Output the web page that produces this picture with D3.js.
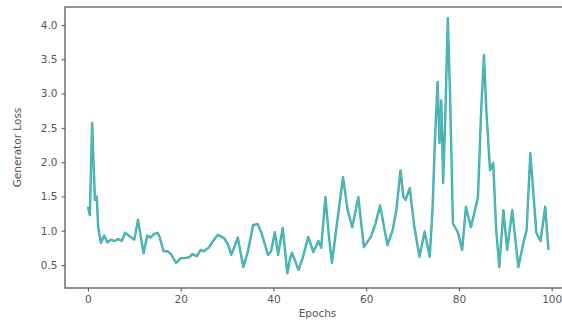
<!DOCTYPE html>
<html>
<head>
<meta charset="utf-8">
<script src="https://cdn.jsdelivr.net/npm/d3@7"></script>
<style>
  body { margin: 0; background: #fff; }
  svg { display: block; font-family: "DejaVu Sans", sans-serif; }
</style>
</head>
<body>
<svg id="chart" width="562" height="324"></svg>
<script>
// epochs and generator loss
const epochs = [0, 0.4, 0.9, 1.2, 1.5, 1.9, 2.2, 2.8, 3.5, 4.2, 5, 5.8, 6.5, 7.3, 8, 9, 10, 10.8, 11.3, 12,
  12.8, 13.5, 14.2, 15, 15.5, 16.3, 17.2, 18, 19, 20, 21, 22, 22.5, 23.5, 24.3, 25, 26, 27, 28, 29.4,
  30.2, 30.9, 31.5, 32.3, 33.5, 34.5, 35.6, 36.6, 37.5, 38.8, 39.5, 40.3, 41, 42, 43, 43.6, 44, 45.4, 46.3, 47.5,
  48.6, 49.7, 50.3, 51.2, 52, 52.6, 53.5, 55, 56, 57, 58.3, 59.5, 61, 62, 63, 64, 64.6, 65.7, 66.5, 67.4,
  68, 68.5, 69.4, 70.4, 71.5, 72.6, 73.7, 74.3, 74.8, 75.4, 75.8, 76.2, 76.6, 77.1, 77.6, 78.1, 78.7, 79.8, 80.7, 81.5,
  82.6, 84.1, 84.8, 85.4, 85.9, 86.7, 87.4, 88, 88.7, 89.6, 90.4, 91.5, 92.8, 93.9, 94.6, 95.4, 96.7, 97.6, 98.6, 99.3];
const genLoss = [1.35, 1.23, 2.57, 2.0, 1.45, 1.5, 1.05, 0.82, 0.93, 0.83, 0.87, 0.85, 0.88, 0.85, 0.97, 0.92, 0.87, 1.16, 0.95, 0.67,
  0.93, 0.9, 0.95, 0.97, 0.9, 0.7, 0.7, 0.65, 0.53, 0.6, 0.6, 0.62, 0.66, 0.63, 0.72, 0.7, 0.75, 0.85, 0.94, 0.89,
  0.8, 0.65, 0.75, 0.9, 0.47, 0.7, 1.08, 1.1, 0.95, 0.65, 0.7, 0.98, 0.65, 1.04, 0.38, 0.6, 0.68, 0.43, 0.6, 0.91,
  0.69, 0.85, 0.75, 1.49, 0.9, 0.53, 1.0, 1.78, 1.3, 1.05, 1.49, 0.76, 0.91, 1.1, 1.37, 1.0, 0.79, 1.01, 1.3, 1.88,
  1.5, 1.45, 1.62, 1.05, 0.62, 0.99, 0.62, 1.3, 2.28, 3.17, 2.28, 2.9, 1.7, 2.76, 4.1, 2.95, 1.11, 0.97, 0.72, 1.35,
  1.05, 1.49, 2.76, 3.56, 2.76, 1.88, 1.99, 1.05, 0.47, 1.3, 0.72, 1.3, 0.47, 0.82, 1.01, 2.13, 0.97, 0.85, 1.35, 0.72];
const xTicks = [0, 20, 40, 60, 80, 100];
const yTicks = [0.5, 1.0, 1.5, 2.0, 2.5, 3.0, 3.5, 4.0];

const svg = d3.select("#chart");
const plotLeft = 65, plotRight = 570, plotTop = 7, plotBottom = 288;

const x = d3.scaleLinear().domain([-4.95, 103.95]).range([plotLeft, plotRight]);
const y = d3.scaleLinear().domain([0.165, 4.2625]).range([plotBottom, plotTop]);

// frame (right edge falls outside the picture)
svg.append("rect")
  .attr("x", plotLeft).attr("y", plotTop)
  .attr("width", plotRight - plotLeft).attr("height", plotBottom - plotTop)
  .attr("fill", "none").attr("stroke", "#5a5a5a").attr("stroke-width", 1.3);

const xAxis = svg.append("g")
  .attr("transform", "translate(0," + plotBottom + ")")
  .call(d3.axisBottom(x).tickValues(xTicks).tickFormat(d3.format("d")).tickSize(3.5).tickPadding(4));
const yAxis = svg.append("g")
  .attr("transform", "translate(" + plotLeft + ",0)")
  .call(d3.axisLeft(y).tickValues(yTicks).tickFormat(d3.format(".1f")).tickSize(3.5).tickPadding(4));

[xAxis, yAxis].forEach(g => {
  g.select(".domain").remove();
  g.selectAll("line").attr("stroke", "#555");
  g.selectAll("text").attr("fill", "#555").style("font-size", "10.5px").style("font-family", "DejaVu Sans");
});

// loss line: a teal stroke with a lighter cyan core, like the blurred original
const line = d3.line().x((d, i) => x(epochs[i])).y(d => y(d));
svg.append("path")
  .datum(genLoss)
  .attr("d", line)
  .attr("fill", "none")
  .attr("stroke", "#4aa2a3")
  .attr("stroke-width", 2.4)
  .attr("stroke-linejoin", "round");
svg.append("path")
  .datum(genLoss)
  .attr("d", line)
  .attr("fill", "none")
  .attr("stroke", "#45c3c3")
  .attr("stroke-width", 1.1)
  .attr("stroke-linejoin", "round");

// axis labels
svg.append("text")
  .attr("x", (plotLeft + plotRight) / 2).attr("y", 317)
  .attr("text-anchor", "middle")
  .attr("fill", "#555").style("font-size", "10.5px")
  .text("Epochs");
svg.append("text")
  .attr("transform", "translate(21," + ((plotTop + plotBottom) / 2) + ") rotate(-90)")
  .attr("text-anchor", "middle")
  .attr("fill", "#555").style("font-size", "10.5px")
  .text("Generator Loss");
</script>
</body>
</html>
